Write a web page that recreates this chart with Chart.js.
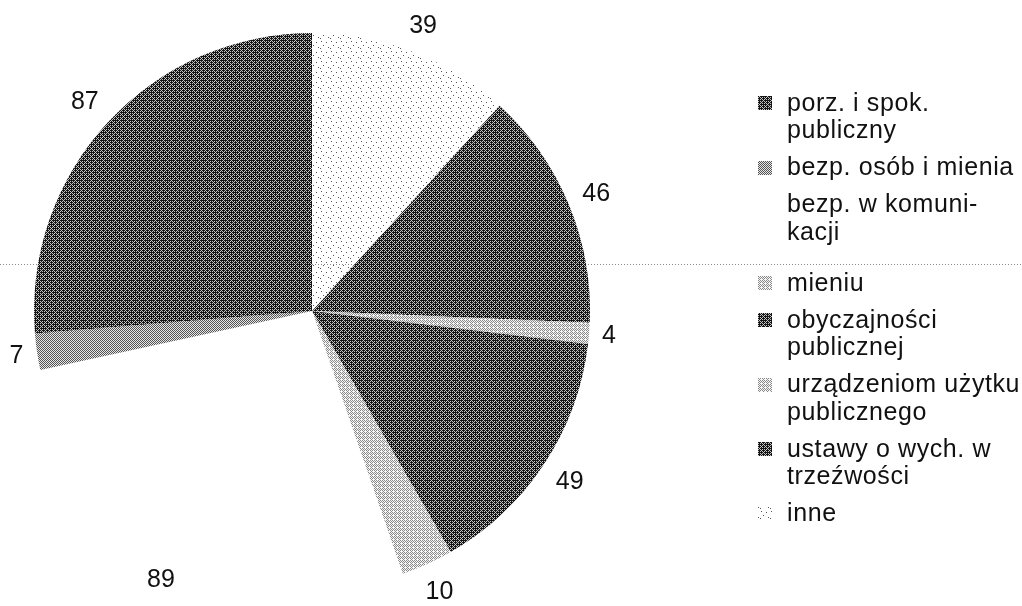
<!DOCTYPE html>
<html>
<head>
<meta charset="utf-8">
<script src="https://cdn.jsdelivr.net/npm/chart.js@4.4.0/dist/chart.umd.min.js"></script>
<style>
html,body{margin:0;padding:0;background:#ffffff;}
#wrap{position:relative;width:1022px;height:606px;overflow:hidden;}
canvas{display:block;}
</style>
</head>
<body>
<div id="wrap"><canvas id="c" width="1022" height="606"></canvas></div>
<script>
// ---- data (legend order) ----
const categories = [
  "porz. i spok. publiczny",
  "bezp. osób i mienia",
  "bezp. w komunikacji",
  "mieniu",
  "obyczajności publicznej",
  "urządzeniom użytku publicznego",
  "ustawy o wych. w trzeźwości",
  "inne"
];
const legendLines = [
  ["porz. i spok.", "publiczny"],
  ["bezp. osób i mienia"],
  ["bezp. w komuni-", "kacji"],
  ["mieniu"],
  ["obyczajności", "publicznej"],
  ["urządzeniom użytku", "publicznego"],
  ["ustawy o wych. w", "trzeźwości"],
  ["inne"]
];
const values = [87, 7, 89, 10, 49, 4, 46, 39];
const tones = ["dark", "mid", "none", "light", "dark", "light", "dark", "dots"];

// ---- textures ----
const bayer = [
  [0,32,8,40,2,34,10,42],[48,16,56,24,50,18,58,26],
  [12,44,4,36,14,46,6,38],[60,28,52,20,62,30,54,22],
  [3,35,11,43,1,33,9,41],[51,19,59,27,49,17,57,25],
  [15,47,7,39,13,45,5,37],[63,31,55,23,61,29,53,21]
];
const toneSpec = {
  dark:  {fg:"#151515", bg:"#c4c4c4", f:0.66},
  mid:   {fg:"#555555", bg:"#e6e6e6", f:0.5},
  light: {fg:"#8a8a8a", bg:"#f6f6f6", f:0.44}
};
function makePattern(tone){
  const cv = document.createElement("canvas");
  const ctx = cv.getContext("2d");
  if (tone === "none") return "#ffffff";
  if (tone === "dots"){
    cv.width = 10; cv.height = 10;
    ctx.fillStyle = "#555555";
    [[1,1],[6,2],[3,5],[8,7],[0,8]].forEach(p => ctx.fillRect(p[0], p[1], 1, 1));
    return ctx.createPattern(cv, "repeat");
  }
  const s = toneSpec[tone];
  cv.width = 8; cv.height = 8;
  for (let y = 0; y < 8; y++) for (let x = 0; x < 8; x++){
    ctx.fillStyle = (bayer[y][x] + 0.5) / 64 < s.f ? s.fg : s.bg;
    ctx.fillRect(x, y, 1, 1);
  }
  return ctx.createPattern(cv, "repeat");
}
const fills = tones.map(makePattern);

// pie drawn clockwise from top in reverse legend order
const order = values.map((_, i) => values.length - 1 - i);

const FONT = "Liberation Sans, Arial, sans-serif";
const SCAN_Y = 264.5;

const scanLine = {
  id: "scanLine",
  beforeDatasetsDraw(chart){
    const c = chart.ctx;
    c.save();
    c.strokeStyle = "#8a8a8a";
    c.lineWidth = 1;
    c.setLineDash([1, 2]);
    c.beginPath();
    c.moveTo(0, SCAN_Y);
    c.lineTo(chart.width, SCAN_Y);
    c.stroke();
    c.restore();
  }
};

const sliceLabels = {
  id: "sliceLabels",
  afterDatasetsDraw(chart){
    const c = chart.ctx;
    const meta = chart.getDatasetMeta(0);
    const ds = chart.data.datasets[0].data;
    c.save();
    c.font = "25px " + FONT;
    c.fillStyle = "#111111";
    c.textAlign = "center";
    c.textBaseline = "middle";
    meta.data.forEach((arc, i) => {
      const p = arc.getProps(["x","y","startAngle","endAngle","outerRadius"], true);
      const mid = (p.startAngle + p.endAngle) / 2;
      const ux = Math.cos(mid), uy = Math.sin(mid);
      const txt = String(ds[i]);
      const w = c.measureText(txt).width;
      const h = 18;
      const R = p.outerRadius + 12 + 4 * Math.abs(uy) + Math.abs(ux) * w / 2 + Math.abs(uy) * h / 2;
      c.fillText(txt, p.x + ux * R, p.y + uy * R + 1);
    });
    c.restore();
  }
};

const sideLegend = {
  id: "sideLegend",
  afterDraw(chart){
    const c = chart.ctx;
    const lineH = 27.5, itemGap = 9.5, scanGap = 14;
    let y = 103;
    let crossed = false;
    c.save();
    c.font = "25px " + FONT;
    try { c.letterSpacing = "0.6px"; } catch(e) {}
    c.textAlign = "left";
    c.textBaseline = "middle";
    legendLines.forEach((lines, i) => {
      if (!crossed && y > SCAN_Y) { y += scanGap; crossed = true; }
      if (tones[i] !== "none"){
        c.fillStyle = fills[i];
        c.fillRect(758, Math.round(y - 7), 14, 14);
      }
      c.fillStyle = "#111111";
      lines.forEach(t => {
        c.fillText(t, 787, y + 1);
        y += lineH;
      });
      y += itemGap;
    });
    c.restore();
  }
};

new Chart(document.getElementById("c"), {
  type: "pie",
  data: {
    labels: order.map(i => categories[i]),
    datasets: [{
      data: order.map(i => values[i]),
      backgroundColor: order.map(i => fills[i]),
      borderWidth: 0,
      hoverOffset: 0
    }]
  },
  options: {
    responsive: false,
    animation: false,
    devicePixelRatio: 1,
    events: [],
    layout: { padding: { left: 34, right: 432, top: 33, bottom: 17 } },
    plugins: { legend: { display: false }, tooltip: { enabled: false } }
  },
  plugins: [scanLine, sliceLabels, sideLegend]
});
</script>
</body>
</html>
